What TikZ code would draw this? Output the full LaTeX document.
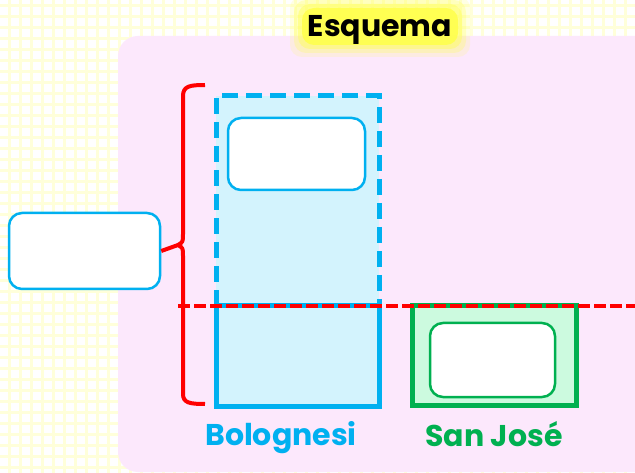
\documentclass[tikz,border=0pt]{standalone}
\usepackage{fontspec}
\setmainfont{Poppins}
\usepackage{xcolor}
\usepackage{tikz}
\usetikzlibrary{positioning,calc}

\definecolor{celeste}{HTML}{00B0F0}
\definecolor{celesteclaro}{HTML}{D3F3FD}
\definecolor{verde}{HTML}{00B050}
\definecolor{verdeclaro}{HTML}{CCFADF}
\definecolor{rosado}{HTML}{FCE8FC}
\definecolor{crema}{HTML}{FFFFDA}
\definecolor{brillo}{HTML}{FFFF4D}

\begin{document}
\begin{tikzpicture}[x=1pt,y=-1pt,
    cajita/.style={rectangle, draw=celeste, fill=white, line width=2.5pt, rounded corners=13pt, inner sep=0pt},
    cajaverde/.style={rectangle, draw=verde, fill=white, line width=2.5pt, rounded corners=13pt, inner sep=0pt},
    etiqueta/.style={font=\bfseries\fontsize{30}{34}\selectfont, inner sep=0pt},
    rayita/.style={line width=3pt, crema},
    corte/.style={red, line width=4pt, dash pattern=on 12pt off 4pt}
]
\useasboundingbox (0,0) rectangle (635,473);

% Fondo cuadriculado
\fill[white] (0,0) rectangle (635,473);
\foreach \i in {0,...,58} {
  \draw[rayita] (9.5+\i*11,0) -- (9.5+\i*11,473);
  \draw[rayita] (0,5.5+\i*11) -- (635,5.5+\i*11);
}
\fill[rosado, rounded corners=20pt] (118,36) rectangle (660,472);

% Titulo
\coordinate (tc) at (380,27);
\foreach \d/\o in {12/0.15,8/0.25,4/0.4,0/0.9}
  \fill[brillo, opacity=\o, rounded corners=12pt]
    ($(tc)+(-78-\d,-19-\d)$) rectangle ($(tc)+(78+\d,18+\d)$);
\node[font=\bfseries\fontsize{30}{34}\selectfont, inner sep=0pt, anchor=base] (titulo) at (380,37) {Esquema};

% Bolognesi
\fill[celesteclaro] (216,96) rectangle (379,406);
\draw[celeste, line width=5pt, dash pattern=on 16pt off 8pt] (216,306) -- (216,96) -- (379,96) -- (379,306);
\draw[celeste, line width=5pt] (216,306) rectangle (379,406);
\node[cajita, minimum width=137pt, minimum height=72pt] (arriba) at (296.5,154) {};

% San Jose
\draw[verde, fill=verdeclaro, line width=5pt] (412,306) rectangle (576,405);
\node[cajaverde, minimum width=125pt, minimum height=74pt] (abajo) at (492.5,360) {};

% Linea de corte
\draw[corte] (178,306) -- (640,306);

% Caja de la izquierda y llave
\node[cajita, minimum width=151pt, minimum height=76pt] (total) at (84.5,251) {};
\coordinate (pico) at (178,245);
\draw[red, line width=4pt, line join=round]
  (205,85) .. controls (190,85) and (183,86) .. (183,96) -- (183,234)
  .. controls (183,242) .. (pico)
  .. controls (183,248) .. (183,256) -- (183,394)
  .. controls (183,403) and (190,404) .. (205,404);
\draw[red, line width=4pt] (total.east) -- (pico);

% Nombres
\node[etiqueta, text=celeste, anchor=base] (bolo) at (281,445) {Bolognesi};
\node[etiqueta, text=verde, anchor=base] (sanjo) at (494,446) {San José};

\end{tikzpicture}
\end{document}
